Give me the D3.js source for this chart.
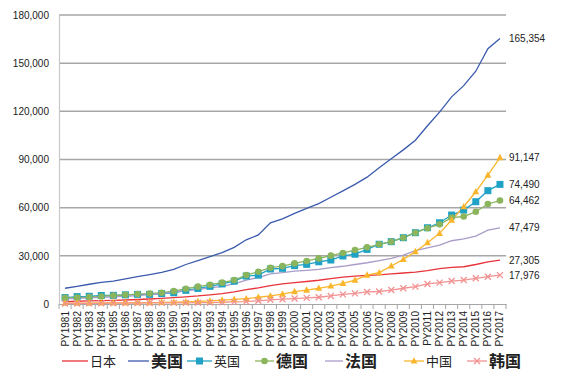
<!DOCTYPE html>
<html>
<head>
<meta charset="utf-8">
<script src="https://cdn.jsdelivr.net/npm/d3@7"></script>
<style>
  body { margin: 0; background: #fff; }
  text { font-family: "Liberation Sans", Arial, "Noto Sans CJK SC", sans-serif; }
</style>
</head>
<body>
<div id="chart"></div>
<script>
var years = d3.range(1981, 2018).map(function(y){ return "PY" + y; });

var japan = [1500,1700,1900,2100,2300,2500,2800,3100,3500,4000,4500,5000,5700,6500,7500,9000,10000,11500,12500,13300,14000,14800,15800,16800,17300,17800,18200,18800,19300,19800,20800,22000,22800,23200,24600,26300,27305];
var usa = [9800,11000,12300,13500,14300,15600,17000,18300,19700,21600,24600,27000,29500,32000,35300,40000,43000,50600,53000,56500,59500,62500,66500,70500,74500,79000,84800,90500,96000,102000,111000,119500,129000,136000,145000,159000,165354];
var uk = [4000,4600,4800,5300,5400,5700,6000,6000,6500,7000,8500,9700,11000,12500,14200,17400,18000,21800,22200,23900,24700,26300,27400,29900,31000,34000,37200,38800,41300,44400,47500,50600,55400,58500,63700,70600,74490];
var germany = [3800,4000,4300,4700,5300,5700,6200,6500,7000,8000,9500,10800,12000,13300,14900,18000,20100,22600,23600,25300,26800,28400,30100,31800,33600,35300,37200,38800,41300,44400,47200,49600,53800,54500,57500,62300,64462];
var france = [3200,3500,3800,4100,4400,4800,5300,5800,6400,7500,8300,9000,10000,11000,12500,14900,16500,18700,19500,20500,21000,21600,22600,23500,24600,25700,27000,28400,30500,33200,35000,36700,39400,40500,42300,46000,47479];
var china = [500,550,600,650,700,750,800,900,1000,1100,1300,1600,1900,2400,2900,3300,4200,5000,6200,7700,8700,9800,11200,12900,14900,18000,19500,23700,27800,32600,38200,44000,52300,60600,69900,80300,91147];
var korea = [300,350,400,450,500,550,600,650,700,700,750,800,900,1100,1300,1500,2000,2600,3000,3400,3800,4200,5000,6000,6600,7500,7800,8700,9800,10800,12500,13300,14300,14900,16000,17000,17976];

var yTicks = [0, 30000, 60000, 90000, 120000, 150000, 180000];

var series = [
  { name: "日本", values: japan, color: "#e8343a", marker: null, bold: false },
  { name: "美国", values: usa, color: "#3b5aae", marker: null, bold: true },
  { name: "英国", values: uk, color: "#1fa2c5", marker: "square", bold: false },
  { name: "德国", values: germany, color: "#8bb55c", marker: "circle", bold: true },
  { name: "法国", values: france, color: "#a99cc8", marker: null, bold: true },
  { name: "中国", values: china, color: "#f9b52c", marker: "triangle", bold: false },
  { name: "韩国", values: korea, color: "#f29292", marker: "cross", bold: true }
];

var width = 580, height = 377;
var svg = d3.select("#chart").append("svg")
  .attr("width", width)
  .attr("height", height);

var x = d3.scaleBand().domain(years).range([59, 506]);
var y = d3.scaleLinear().domain([0, 180000]).range([304, 15]);
var cx = function(d){ return x(d) + x.bandwidth() / 2; };

// gridlines
svg.append("g")
  .selectAll("line")
  .data(yTicks.slice(1))
  .enter().append("line")
  .attr("x1", 59).attr("x2", 506)
  .attr("y1", function(d){ return y(d); })
  .attr("y2", function(d){ return y(d); })
  .attr("stroke", "#a6a6a6")
  .attr("stroke-width", 1.5);

// y axis
var yAxis = svg.append("g")
  .attr("transform", "translate(59,0)")
  .call(d3.axisLeft(y).tickValues(yTicks).tickSize(0).tickPadding(10).tickFormat(d3.format(",")));
yAxis.select(".domain").attr("stroke", "#c8c8c8").attr("stroke-width", 1.2);
yAxis.selectAll("text").style("font-size", "10px").attr("fill", "#222");

// x axis
var xAxis = svg.append("g")
  .attr("transform", "translate(0,304)")
  .call(d3.axisBottom(x).tickSize(0));
xAxis.select(".domain").attr("stroke", "#a6a6a6").attr("stroke-width", 1.2);
xAxis.selectAll("text")
  .style("font-size", "10px")
  .attr("fill", "#222")
  .attr("transform", "rotate(-90)")
  .attr("text-anchor", "end")
  .attr("x", -7)
  .attr("y", 0)
  .attr("dy", "0.35em");

// category boundary ticks
svg.append("g")
  .selectAll("line")
  .data(years.concat(["end"]))
  .enter().append("line")
  .attr("x1", function(d, i){ return 59 + i * x.step(); })
  .attr("x2", function(d, i){ return 59 + i * x.step(); })
  .attr("y1", 304).attr("y2", 309)
  .attr("stroke", "#a6a6a6");

var line = d3.line()
  .x(function(d, i){ return cx(years[i]); })
  .y(function(d){ return y(d); });

var plot = svg.append("g");

series.forEach(function(s){
  plot.append("path")
    .datum(s.values)
    .attr("d", line)
    .attr("fill", "none")
    .attr("stroke", s.color)
    .attr("stroke-width", 1.3);
});

function drawMarker(g, type, color, px, py){
  if (type === "square") {
    g.append("rect").attr("x", px - 3.5).attr("y", py - 3.5).attr("width", 7).attr("height", 7).attr("fill", color);
  } else if (type === "circle") {
    g.append("circle").attr("cx", px).attr("cy", py).attr("r", 3.3).attr("fill", color);
  } else if (type === "triangle") {
    g.append("path").attr("d", "M" + px + "," + (py - 3.8) + "L" + (px + 3.4) + "," + (py + 2.6) + "L" + (px - 3.4) + "," + (py + 2.6) + "Z").attr("fill", color);
  } else if (type === "cross") {
    g.append("path").attr("d", "M" + (px - 3) + "," + (py - 3) + "L" + (px + 3) + "," + (py + 3) + "M" + (px + 3) + "," + (py - 3) + "L" + (px - 3) + "," + (py + 3))
      .attr("stroke", color).attr("stroke-width", 1.3).attr("fill", "none");
  }
}

series.forEach(function(s){
  if (!s.marker) return;
  var g = plot.append("g");
  s.values.forEach(function(v, i){
    drawMarker(g, s.marker, s.color, cx(years[i]), y(v));
  });
});

// end labels
var fmt = d3.format(",");
svg.append("g")
  .selectAll("text")
  .data(series)
  .enter().append("text")
  .attr("x", 509)
  .attr("y", function(d){ return y(d.values[d.values.length - 1]); })
  .attr("dy", "0.35em")
  .style("font-size", "10px")
  .attr("fill", "#222")
  .text(function(d){ return fmt(d.values[d.values.length - 1]); });

// legend
var legendX = [62, 128, 187, 255, 325, 404, 467];
var legendLen = [26, 21, 25, 19, 18, 20, 20];
var legend = svg.append("g");
series.forEach(function(s, i){
  var lx = legendX[i], ly = 361;
  legend.append("line")
    .attr("x1", lx).attr("x2", lx + legendLen[i])
    .attr("y1", ly).attr("y2", ly)
    .attr("stroke", s.color).attr("stroke-width", 1.3);
  if (s.marker) drawMarker(legend, s.marker, s.color, lx + legendLen[i] / 2, ly);
  legend.append("text")
    .attr("x", lx + legendLen[i] + 2)
    .attr("y", ly)
    .attr("dy", "0.36em")
    .style("font-family", "'Noto Sans CJK SC', sans-serif")
    .style("font-size", s.bold ? "16px" : "13px")
    .style("font-weight", s.bold ? "bold" : "normal")
    .attr("fill", "#222")
    .text(s.name);
});
</script>
</body>
</html>
